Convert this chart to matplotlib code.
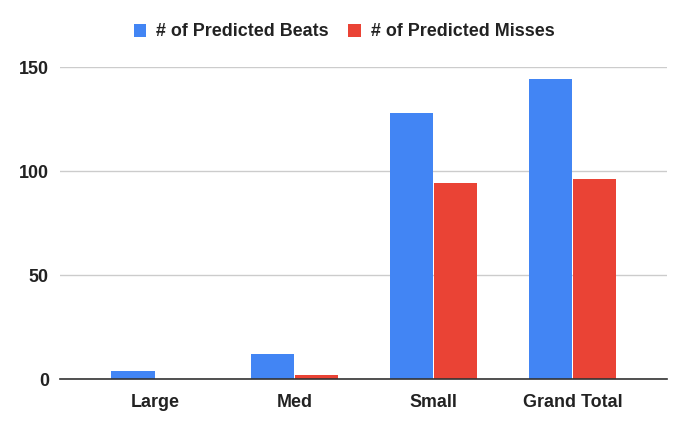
import matplotlib.pyplot as plt
import numpy as np

categories = ["Large", "Med", "Small", "Grand Total"]
beats = [4, 12, 128, 144]
misses = [0, 2, 94, 96]
series_names = ["# of Predicted Beats", "# of Predicted Misses"]
yticks = [0, 50, 100, 150]

plt.rcParams['font.family'] = ['Liberation Sans', 'DejaVu Sans']
FS = 12.9

fig = plt.figure(figsize=(6.89, 4.32), dpi=100)
ax = fig.add_axes([60 / 689, 1 - 379 / 432, 607 / 689, 312 / 432])

x = np.arange(len(categories))
w = 0.309
off = 0.158
ax.bar(x - off, beats, w, color='#4285F4', label=series_names[0], zorder=3)
ax.bar(x + off, misses, w, color='#EA4335', label=series_names[1], zorder=3)

ax.set_xlim(-0.682, 3.675)
ax.set_ylim(0, 150)
ax.set_yticks(yticks)
ax.set_xticks(x)
ax.set_xticklabels(categories)
for lbl in ax.get_xticklabels() + ax.get_yticklabels():
    lbl.set_fontweight('bold')
    lbl.set_fontsize(FS)
    lbl.set_color('#222222')
ax.tick_params(axis='both', length=0)
ax.tick_params(axis='y', pad=8)
ax.tick_params(axis='x', pad=11)

ax.grid(axis='y', color='#cccccc', linewidth=1, zorder=0)
for s in ['top', 'right', 'left']:
    ax.spines[s].set_visible(False)
ax.spines['bottom'].set_color('#333333')
ax.spines['bottom'].set_linewidth(1.2)
ax.spines['bottom'].set_zorder(4)

leg = fig.legend(loc='center', bbox_to_anchor=(344 / 689, 1 - 32 / 432), ncol=2,
                 frameon=False, handlelength=0.7, handleheight=0.7,
                 handletextpad=0.55, columnspacing=1.1,
                 prop={'weight': 'bold', 'size': FS})
for t in leg.get_texts():
    t.set_color('#222222')

fig.savefig('out.png', dpi=100)
